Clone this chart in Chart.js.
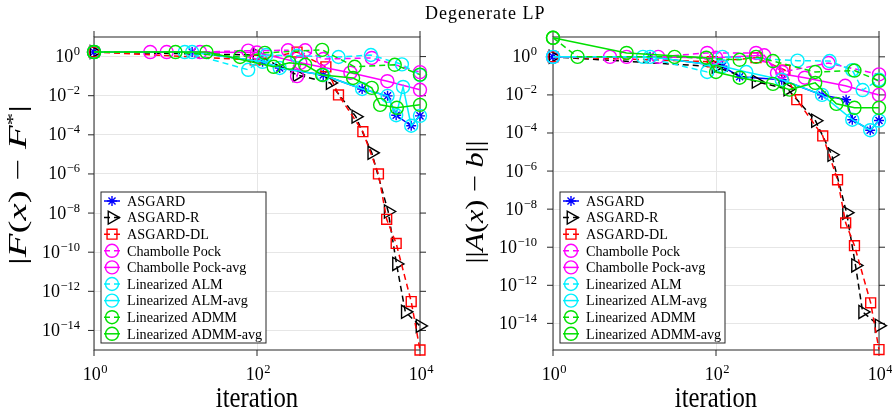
<!DOCTYPE html>
<html>
<head>
<meta charset="utf-8">
<script src="https://cdn.jsdelivr.net/npm/chart.js@4.4.1/dist/chart.umd.min.js"></script>
<style>
  body { margin: 0; background: #fff; }
  #wrap { position: relative; width: 892px; height: 411px; }
  canvas { position: absolute; top: 0; }
  #titolo { position: absolute; left: 425px; top: 3px; font: 18px "Liberation Serif"; letter-spacing: 1px; white-space: nowrap; color: #000; }
</style>
</head>
<body>
<div id="wrap">
  <canvas id="chartF" width="446" height="411" style="left:0"></canvas>
  <canvas id="chartA" width="446" height="411" style="left:446px"></canvas>
  <div id="titolo">Degenerate LP</div>
</div>
<script>
const nomiSerie = ['ASGARD', 'ASGARD-R', 'ASGARD-DL', 'Chambolle Pock', 'Chambolle Pock-avg',
                   'Linearized ALM', 'Linearized ALM-avg', 'Linearized ADMM', 'Linearized ADMM-avg'];
const xTickExp = [0, 2, 4];
const yTickExp = [0, -2, -4, -6, -8, -10, -12, -14];

// |F(x) - F*|   [iterazione, valore]
const asgardF    = [[1,1.7],[16,1.7],[117,0.54],[190,0.26],[650,0.115],[1950,0.022],[4000,0.0098],[5100,0.001],[7800,0.00029],[10000,0.00093]];
const asgardRF   = [[1,1.7],[100,1.2],[310,0.115],[790,0.045],[1630,0.00085],[2560,1.2e-5],[4070,1.2e-8],[5150,2.5e-11],[6600,9e-14],[10000,1.7e-14]];
const asgardDLF  = [[1,1.7],[95,0.67],[310,1.7],[700,0.3],[1000,0.011],[1990,1.45e-4],[3090,1e-6],[3900,4.8e-9],[5100,2.8e-10],[7800,3e-13],[10000,1e-15]];
const cpF        = [[1,1.7],[4.9,1.7],[20,1.7],[78,2.0],[240,2.1],[310,0.1],[390,2.1],[650,0.75],[2560,0.85],[10000,0.16]];
const cpAvgF     = [[1,1.7],[7.8,1.7],[100,1.6],[340,0.48],[1400,0.15],[3980,0.055],[10000,0.02]];
const almF       = [[1,1.7],[13,1.7],[78,0.21],[130,1.2],[310,1.1],[1000,0.95],[2500,1.2],[6000,0.4],[10000,0.115]];
const almAvgF    = [[1,1.7],[16,1.7],[117,0.54],[190,0.26],[650,0.115],[1950,0.022],[4000,0.0098],[5100,0.001],[6200,0.028],[7800,0.00029],[10000,0.00093]];
const admmF      = [[1,1.7],[10,1.7],[62,0.95],[125,1.55],[630,2.2],[1580,0.3],[4900,0.38],[10000,0.12]];
const admmAvgF   = [[1,1.7],[24,1.7],[160,0.3],[250,0.48],[390,0.38],[630,0.115],[1510,0.08],[2560,0.025],[3240,0.0034],[5200,0.0024],[10000,0.0034]];

// ||A(x) - b||
const asgardA    = [[1,1],[15.5,1],[120,0.32],[195,0.09],[640,0.063],[2000,0.01],[3950,0.0056],[4700,0.0005],[7800,0.00014],[10000,0.00045]];
const asgardRA   = [[1,1],[100,0.3],[310,0.05],[760,0.02],[1660,4.4e-4],[2630,7.2e-6],[4000,6.5e-9],[5150,1.1e-11],[6300,4e-14],[10000,7.6e-15]];
const asgardDLA  = [[1,1],[90,0.55],[310,0.9],[700,0.2],[980,0.0056],[2040,7e-5],[3100,3.5e-7],[3900,1.9e-9],[5000,1.2e-10],[7900,1.2e-13],[10000,4.2e-16]];
const cpA        = [[1,1],[5,1],[19.5,1],[78,1.6],[310,1.6],[650,0.16],[2400,0.47],[10000,0.12]];
const cpAvgA     = [[1,1],[8,1],[100,0.9],[390,1.2],[560,0.14],[1230,0.08],[3850,0.03],[10000,0.01]];
const almA       = [[1,1],[12.7,1],[78,0.16],[120,1.0],[1000,0.63],[2480,0.6],[4700,0.2],[6300,0.018],[10000,0.063]];
const almAvgA    = [[1,1],[15.5,1],[120,0.32],[235,0.16],[640,0.063],[2000,0.01],[4700,0.0005],[7800,0.00014],[10000,0.00045]];
const admmA      = [[1,10],[2,1],[31,1],[195,0.7],[310,1.0],[500,0.6],[1650,0.16],[5000,0.19],[10000,0.055]];
const admmAvgA   = [[1,10],[8,1.6],[76,0.9],[100,0.16],[195,0.08],[500,0.038],[800,0.019],[1650,0.043],[3000,0.0034],[5000,0.0021],[10000,0.0021]];

const coloriSerie = ['#0000ff', '#000000', '#ff0000', '#ff00ff', '#ff00ff', '#00f0ff', '#00f0ff', '#00e000', '#00e000'];
const trattiSerie = [[], [6, 4], [6, 4], [6, 4], [], [6, 4], [], [6, 4], []];
const marcatori   = ['star', 'triangle', 'rect', 'circle', 'circle', 'circle', 'circle', 'circle', 'circle'];
const raggi       = [5, 7.5, 7, 6.5, 6.5, 6.5, 6.5, 6.5, 6.5];
const rotazioni   = [0, 90, 0, 0, 0, 0, 0, 0, 0];

const FONT = '"Liberation Serif", "DejaVu Serif", serif';

function creaDataset(punti, i) {
    return {
        label: nomiSerie[i],
        data: punti.map(p => ({ x: p[0], y: p[1] })),
        borderColor: coloriSerie[i],
        backgroundColor: 'rgba(0,0,0,0)',
        borderWidth: 1.5,
        borderDash: trattiSerie[i],
        pointStyle: marcatori[i],
        pointRadius: raggi[i],
        pointHoverRadius: raggi[i],
        pointRotation: rotazioni[i],
        pointBorderColor: coloriSerie[i],
        pointBackgroundColor: 'rgba(0,0,0,0)',
        pointBorderWidth: 1.4,
        tension: 0,
        fill: false,
        clip: false,
        order: nomiSerie.length - i
    };
}

function scriviPotenza(ctx, e, x, base, allinea) {
    const esp = e < 0 ? '\u2212' + (-e) : String(e);
    ctx.font = '18px ' + FONT;
    const w1 = ctx.measureText('10').width;
    ctx.font = '12.5px ' + FONT;
    const w2 = ctx.measureText(esp).width + 0.5;
    const x0 = allinea === 'right' ? x - w1 - w2 : x - (w1 + w2) / 2;
    ctx.textAlign = 'left';
    ctx.textBaseline = 'alphabetic';
    ctx.font = '18px ' + FONT;
    ctx.fillText('10', x0, base);
    ctx.font = '12.5px ' + FONT;
    ctx.fillText(esp, x0 + w1 + 0.5, base - 7);
}

function scriviEtichetta(ctx, pezzi, cx, cy, lunghezza) {
    const dim = 25;
    const font = s => (s === 'i' ? 'italic ' : '') + (s === 's' ? dim * 0.65 : dim) + 'px ' + FONT;
    let tot = 0;
    const larg = pezzi.map(p => {
        ctx.font = font(p[1]);
        const w = ctx.measureText(p[0]).width;
        tot += w;
        return w;
    });
    ctx.save();
    ctx.translate(cx, cy);
    ctx.rotate(-Math.PI / 2);
    ctx.scale(lunghezza / tot, 1);
    ctx.textAlign = 'left';
    ctx.textBaseline = 'alphabetic';
    let x = -tot / 2;
    pezzi.forEach((p, k) => {
        ctx.font = font(p[1]);
        ctx.fillText(p[0], x, dim * 0.3 - (p[1] === 's' ? dim * 0.3 : 0));
        x += larg[k];
    });
    ctx.restore();
}

function creaCornice(conf) {
    return {
        id: 'cornice',
        beforeDatasetsDraw(chart) {
            const ctx = chart.ctx, a = chart.chartArea;
            const sx = chart.scales.x, sy = chart.scales.y;
            ctx.save();
            ctx.strokeStyle = '#262626';
            ctx.lineWidth = 1;
            ctx.strokeRect(a.left, a.top, a.right - a.left, a.bottom - a.top);
            ctx.beginPath();
            sy.ticks.forEach(t => {
                const py = sy.getPixelForValue(t.value);
                ctx.moveTo(a.left - 6, py); ctx.lineTo(a.left, py);
                ctx.moveTo(a.right, py); ctx.lineTo(a.right + 6, py);
            });
            sx.ticks.forEach(t => {
                const px = sx.getPixelForValue(t.value);
                ctx.moveTo(px, a.top - 6); ctx.lineTo(px, a.top);
                ctx.moveTo(px, a.bottom); ctx.lineTo(px, a.bottom + 6);
            });
            ctx.stroke();
            ctx.restore();
        },
        afterDatasetsDraw(chart) {
            // legenda disegnata a mano: linea + marcatore come in matlab
            const ctx = chart.ctx, a = chart.chartArea;
            const x0 = a.left + 7, y0 = 192, w = 165, h = 151;
            ctx.save();
            ctx.fillStyle = '#fff';
            ctx.fillRect(x0, y0, w, h);
            ctx.strokeStyle = '#262626';
            ctx.lineWidth = 1;
            ctx.strokeRect(x0, y0, w, h);
            chart.data.datasets.forEach((ds, i) => {
                const yy = y0 + 9 + i * 16.6;
                ctx.strokeStyle = ds.borderColor;
                ctx.lineWidth = 1.5;
                ctx.setLineDash(ds.borderDash);
                ctx.beginPath();
                ctx.moveTo(x0 + 3, yy);
                ctx.lineTo(x0 + 19, yy);
                ctx.stroke();
                ctx.setLineDash([]);
                ctx.lineWidth = ds.pointBorderWidth;
                ctx.fillStyle = 'rgba(0,0,0,0)';
                Chart.helpers.drawPoint(ctx, {
                    pointStyle: ds.pointStyle, rotation: ds.pointRotation,
                    radius: ds.pointRadius, borderWidth: ds.pointBorderWidth
                }, x0 + 11, yy);
                ctx.fillStyle = '#000';
                ctx.font = '14.2px ' + FONT;
                ctx.textAlign = 'left';
                ctx.textBaseline = 'middle';
                ctx.fillText(ds.label, x0 + 26, yy + 1);
            });
            ctx.restore();
        },
        afterDraw(chart) {
            const ctx = chart.ctx, a = chart.chartArea;
            const sx = chart.scales.x, sy = chart.scales.y;
            ctx.save();
            ctx.fillStyle = '#000';
            yTickExp.forEach(e => {
                const py = sy.getPixelForValue(Math.pow(10, e));
                scriviPotenza(ctx, e, a.left - conf.gapTick, py + 5.5, 'right');
            });
            xTickExp.forEach(e => {
                const px = sx.getPixelForValue(Math.pow(10, e));
                scriviPotenza(ctx, e, px + 1, 380, 'center');
            });
            ctx.font = '24px ' + FONT;
            ctx.textAlign = 'center';
            ctx.textBaseline = 'alphabetic';
            ctx.save();
            ctx.translate((a.left + a.right) / 2, 407);
            ctx.scale(1.03, 1.2);
            ctx.fillText('iteration', 0, 0);
            ctx.restore();
            scriviEtichetta(ctx, conf.etichetta, conf.etichettaX, conf.etichettaY, conf.etichettaLung);
            ctx.restore();
        }
    };
}

function creaGrafico(idCanvas, serie, conf) {
    const ctx = document.getElementById(idCanvas);
    new Chart(ctx, {
        type: 'line',
        data: { datasets: serie.map(creaDataset) },
        options: {
            responsive: false,
            animation: false,
            devicePixelRatio: 1,
            events: [],
            layout: { padding: { top: 37, right: conf.padDestra, left: 0, bottom: 0 } },
            scales: {
                x: {
                    type: 'logarithmic', min: 1, max: 1e4,
                    afterBuildTicks: ax => { ax.ticks = xTickExp.map(e => ({ value: Math.pow(10, e) })); },
                    afterFit: ax => { ax.height = 61; },
                    ticks: { display: false },
                    grid: { color: '#e6e6e6', drawTicks: false },
                    border: { display: false }
                },
                y: {
                    type: 'logarithmic', min: conf.yMin, max: conf.yMax,
                    afterBuildTicks: ax => { ax.ticks = yTickExp.map(e => ({ value: Math.pow(10, e) })); },
                    afterFit: ax => { ax.width = conf.larghezzaAsse; },
                    ticks: { display: false },
                    grid: { color: '#e6e6e6', drawTicks: false },
                    border: { display: false }
                }
            },
            plugins: { legend: { display: false }, tooltip: { enabled: false } }
        },
        plugins: [creaCornice(conf)]
    });
}

creaGrafico('chartF',
    [asgardF, asgardRF, asgardDLF, cpF, cpAvgF, almF, almAvgF, admmF, admmAvgF],
    {
        yMin: 1e-15, yMax: 10, larghezzaAsse: 94, padDestra: 26, gapTick: 14,
        etichetta: [['|', 'n'], ['F', 'i'], ['(', 'n'], ['x', 'i'], [')', 'n'], [' \u2212 ', 'n'], ['F', 'i'], ['*', 's'], ['|', 'n']],
        etichettaX: 18, etichettaY: 185, etichettaLung: 160
    });

creaGrafico('chartA',
    [asgardA, asgardRA, asgardDLA, cpA, cpAvgA, almA, almAvgA, admmA, admmAvgA],
    {
        yMin: 4e-16, yMax: 11, larghezzaAsse: 107, padDestra: 13, gapTick: 16,
        etichetta: [['||', 'n'], ['A', 'i'], ['(', 'n'], ['x', 'i'], [')', 'n'], [' \u2212 ', 'n'], ['b', 'i'], ['||', 'n']],
        etichettaX: 29, etichettaY: 202, etichettaLung: 123
    });
</script>
</body>
</html>
